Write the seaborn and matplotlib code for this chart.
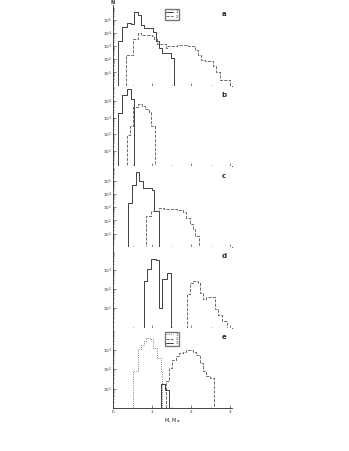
import numpy as np
import pandas as pd
import seaborn as sns
import matplotlib.pyplot as plt

# mass bins (M, M_sun) and counts N
a1_edges = [0.13, 0.22, 0.35, 0.46, 0.54, 0.63, 0.72, 0.79, 1.03, 1.09, 1.17, 1.26, 1.48, 1.55]
a1_counts = [2400, 27500, 59000, 50000, 400000, 230000, 40000, 23000, 12000, 2400, 800, 300, 125]
a2_edges = [0.33, 0.52, 0.63, 0.72, 1.00, 1.04, 1.13, 1.35, 1.39, 1.65, 1.91, 2.09, 2.17, 2.26, 2.35, 2.57, 2.65, 2.74, 3.00]
a2_counts = [200, 3800, 10000, 7600, 5600, 3800, 1600, 800, 1000, 1200, 1000, 500, 220, 95, 80, 30, 10, 2.6]

b1_edges = [0.13, 0.22, 0.35, 0.45, 0.54]
b1_counts = [1900, 23000, 49000, 13000]
b2_edges = [0.35, 0.43, 0.52, 0.57, 0.65, 0.74, 0.83, 0.91, 0.96, 1.07]
b2_counts = [95, 310, 4100, 4500, 6600, 5100, 3200, 2000, 310]

c1_edges = [0.37, 0.48, 0.58, 0.67, 0.76, 1.00, 1.06, 1.17]
c1_counts = [2200, 48000, 450000, 95000, 30000, 20000, 500]
c2_edges = [0.85, 0.96, 1.17, 1.30, 1.65, 1.78, 1.87, 1.96, 2.04, 2.11, 2.20]
c2_counts = [200, 525, 930, 800, 630, 400, 166, 52, 22, 7]

d1_edges = [0.78, 0.87, 0.97, 1.09, 1.17, 1.26, 1.37, 1.48]
d1_counts = [250, 1100, 3800, 3400, 11, 340, 700]
d2_edges = [1.90, 1.98, 2.04, 2.17, 2.24, 2.30, 2.39, 2.61, 2.70, 2.80, 2.91]
d2_counts = [55, 220, 250, 220, 66, 30, 40, 9, 4.5, 2.1]

e1_edges = [0.52, 0.63, 0.71, 0.78, 0.85, 0.94, 1.03, 1.13, 1.22, 1.26]
e1_counts = [78, 1070, 1740, 2750, 4200, 3700, 1180, 360, 78]
e2_edges = [1.35, 1.43, 1.52, 1.61, 1.70, 1.78, 1.87, 1.96, 2.04, 2.13, 2.22, 2.30, 2.39, 2.48, 2.59]
e2_counts = [26, 115, 300, 480, 660, 800, 950, 950, 800, 540, 200, 78, 47, 35]
e3_edges = [1.22, 1.33, 1.43]
e3_counts = [17, 9]

panels = [
    ("a", [(a1_edges, a1_counts, "-", "1"), (a2_edges, a2_counts, "--", "2")], 6.15, 0.0, [1, 2, 3, 4, 5]),
    ("b", [(b1_edges, b1_counts, "-", None), (b2_edges, b2_counts, "--", None)], 4.9, 0.1, [1, 2, 3, 4]),
    ("c", [(c1_edges, c1_counts, "-", None), (c2_edges, c2_counts, "--", None)], 6.1, 0.0, [1, 2, 3, 4, 5]),
    ("d", [(d1_edges, d1_counts, "-", None), (d2_edges, d2_counts, "--", None)], 4.2, 0.0, [1, 2, 3]),
    ("e", [(e1_edges, e1_counts, ":", "1"), (e2_edges, e2_counts, "--", "2"), (e3_edges, e3_counts, "-", "3")], 4.15, 0.0, [1, 2, 3]),
]

sns.set_style("ticks")
plt.rcParams["font.family"] = ["DejaVu Sans"]

fig, axes = plt.subplots(5, 1, sharex=True, figsize=(3.49, 4.51), dpi=100)
fig.subplots_adjust(left=0.324, right=0.665, top=0.989, bottom=0.095, hspace=0)

for ax, (letter, series, top, bot, exps) in zip(axes, panels):
    ax.set_yscale("log")
    for edges, counts, ls, lab in series:
        w = edges[1] - edges[0]
        bins = [edges[0] - w] + list(edges) + [edges[-1] + w]
        centers = [(lo + hi) / 2 for lo, hi in zip(edges[:-1], edges[1:])]
        df = pd.DataFrame({"M": centers, "N": counts})
        col = "#222222" if ls == "-" else "#555555"
        kw = {"label": lab} if lab else {}
        sns.histplot(data=df, x="M", weights="N", bins=bins, element="step",
                     fill=False, color=col, linestyle=ls, linewidth=0.6,
                     ax=ax, **kw)
    ax.set_ylim(10 ** bot, 10 ** top)
    ax.set_yticks([10.0 ** k for k in exps])
    ax.set_ylabel("")
    ax.set_xlim(0, 3.05)
    ax.tick_params(axis="both", which="both", direction="in", labelsize=3, width=0.4, pad=1)
    ax.tick_params(axis="both", which="major", length=2)
    ax.tick_params(axis="both", which="minor", length=1)
    for s in ["top", "right"]:
        ax.spines[s].set_visible(False)
    for s in ["left", "bottom"]:
        ax.spines[s].set_linewidth(0.6)
    ax.text(0.91, 0.86, letter, transform=ax.transAxes, fontsize=5, fontweight="bold")

axes[-1].set_xticks([0, 1, 2, 3])
axes[-1].set_xticks([0.5, 1.5, 2.5], minor=True)
axes[-1].set_xlabel(r"M, M$_\odot$", fontsize=3.5, labelpad=2)
axes[0].text(0.0, 1.0, "N", transform=axes[0].transAxes, fontsize=3.5, fontweight="bold", ha="center", va="bottom")
for i in (0, 4):
    axes[i].legend(loc="upper left", bbox_to_anchor=(0.42, 0.97), fontsize=2.5,
                   frameon=True, handlelength=2, borderpad=0.3, labelspacing=0.1,
                   fancybox=False, edgecolor="#555555")

fig.savefig("out.png", dpi=100)
